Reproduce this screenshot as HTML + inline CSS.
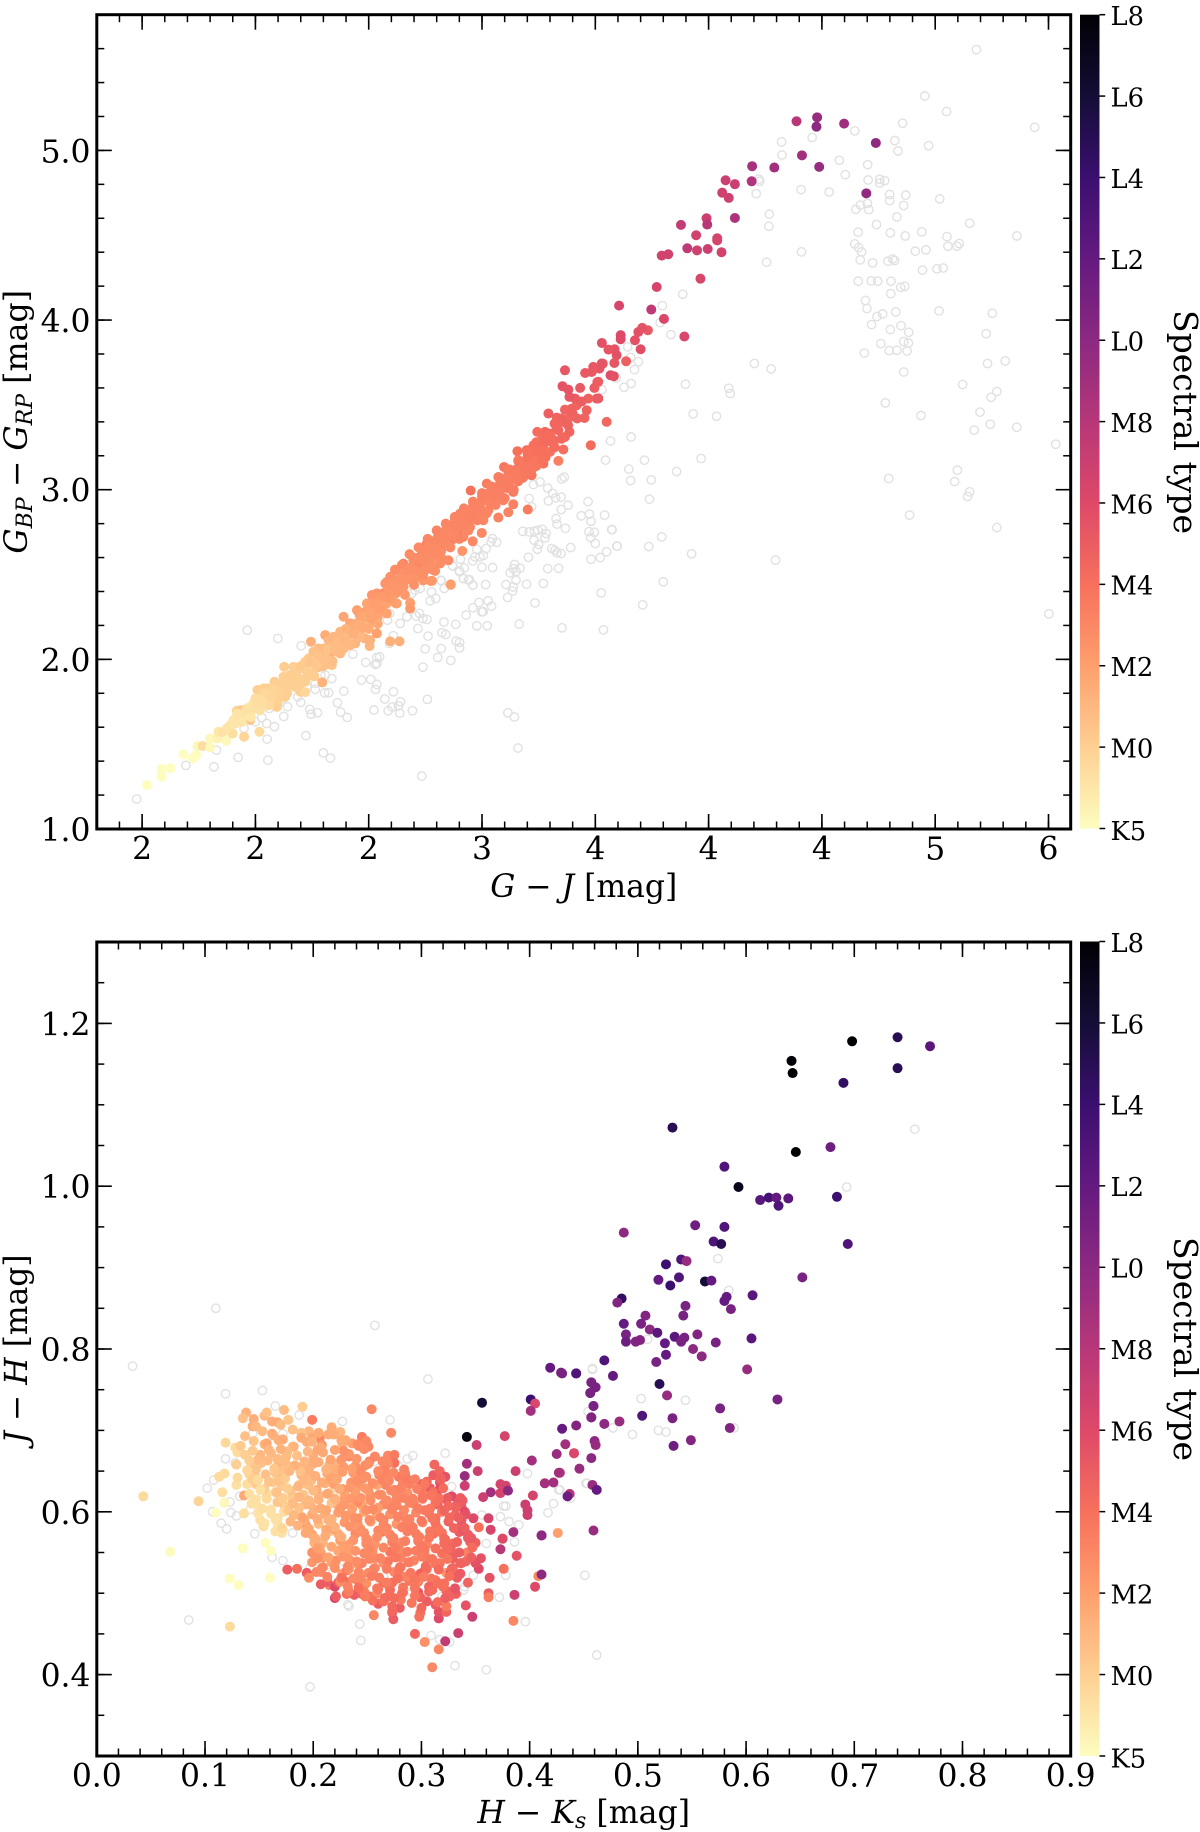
<!DOCTYPE html>
<html lang="en">
<head>
<meta charset="utf-8">
<title>Colour-colour diagrams by spectral type</title>
<style>
html,body{margin:0;padding:0;background:#fff;}
svg{display:block;}
text{font-family:"DejaVu Serif","Liberation Serif",serif;fill:#000;}
</style>
</head>
<body>
<svg id="figure" xmlns="http://www.w3.org/2000/svg" width="1200" height="1832" viewBox="0 0 1200 1832">
<defs>
<linearGradient id="magma-bar" x1="0" y1="1" x2="0" y2="0">
<stop offset="0" stop-color="#fcfdbf"/><stop offset="0.1" stop-color="#fecf92"/><stop offset="0.2" stop-color="#fe9f6d"/><stop offset="0.3" stop-color="#f7705c"/><stop offset="0.4" stop-color="#de4968"/><stop offset="0.5" stop-color="#b73779"/><stop offset="0.6" stop-color="#8c2981"/><stop offset="0.7" stop-color="#641a80"/><stop offset="0.8" stop-color="#3b0f70"/><stop offset="0.9" stop-color="#140e36"/><stop offset="1" stop-color="#000004"/>
</linearGradient>
</defs>
<g id="top-panel"></g>
<g id="bottom-panel"></g>
<text x="583.7" y="897" font-size="31.4" text-anchor="middle" xml:space="preserve"><tspan font-style="italic">G</tspan> − <tspan font-style="italic">J</tspan> [mag]</text>
<text transform="translate(27,421.8) rotate(-90)" font-size="31.7" text-anchor="middle" xml:space="preserve"><tspan font-style="italic">G</tspan><tspan font-style="italic" font-size="22" dy="5">BP</tspan><tspan dy="-5"> − </tspan><tspan font-style="italic">G</tspan><tspan font-style="italic" font-size="22" dy="5">RP</tspan><tspan dy="-5"> [mag]</tspan></text>
<text transform="translate(1174,422) rotate(90)" font-size="33" text-anchor="middle">Spectral type</text>
<text x="583.7" y="1823" font-size="31.6" text-anchor="middle" xml:space="preserve"><tspan font-style="italic">H</tspan> − <tspan font-style="italic">K</tspan><tspan font-style="italic" font-size="22" dy="5">s</tspan><tspan dy="-5"> [mag]</tspan></text>
<text transform="translate(27,1349) rotate(-90)" font-size="31.4" text-anchor="middle" xml:space="preserve"><tspan font-style="italic">J</tspan> − <tspan font-style="italic">H</tspan> [mag]</text>
<text transform="translate(1174,1349) rotate(90)" font-size="33" text-anchor="middle">Spectral type</text>
</svg>
<script>
const spectralLabels = ['K5','M0','M2','M4','M6','M8','L0','L2','L4','L6','L8'];
const spectralTicks = [-2,0,2,4,6,8,10,12,14,16,18];
const topXTickValues = [1.5,2,2.5,3,3.5,4,4.5,5,5.5];
const topXTickLabels = ['2','2','2','3','4','4','4','5','6'];
const topYTickValues = [1,2,3,4,5];
const topYTickLabels = ['1.0','2.0','3.0','4.0','5.0'];
const bottomXTickValues = [0,0.1,0.2,0.3,0.4,0.5,0.6,0.7,0.8,0.9];
const bottomXTickLabels = ['0.0','0.1','0.2','0.3','0.4','0.5','0.6','0.7','0.8','0.9'];
const bottomYTickValues = [0.4,0.6,0.8,1.0,1.2];
const bottomYTickLabels = ['0.4','0.6','0.8','1.0','1.2'];

const topFieldGJ = [
5.182,4.954,5.050,5.439,4.856,4.645,4.822,4.971,4.836,4.457,4.322,4.324,4.577,4.702,4.603,4.704,4.755,4.755,4.777,4.222,
4.226,4.408,4.532,4.210,4.799,4.870,4.799,5.020,4.861,4.670,4.701,4.650,4.707,4.268,4.266,4.831,5.152,4.741,4.660,4.802,
4.941,4.868,5.052,5.361,4.645,4.662,4.675,5.056,5.096,5.106,4.959,4.912,4.410,4.669,4.724,4.792,4.812,4.821,4.256,4.944,
5.008,5.035,4.660,4.718,4.746,4.805,4.848,4.866,4.804,3.886,4.692,4.699,3.796,5.017,5.252,4.826,4.768,4.743,3.786,4.719,
4.849,4.802,4.883,3.834,5.225,4.861,4.882,4.760,4.797,4.831,4.876,4.687,3.643,3.656,4.202,4.276,3.690,3.673,5.231,5.309,
4.861,3.592,3.658,3.627,3.898,4.089,4.096,5.121,5.272,5.247,4.780,3.529,3.932,4.035,4.937,5.198,5.172,5.243,5.360,5.532,
3.658,3.567,3.545,3.717,3.967,3.648,3.656,3.747,3.859,3.739,4.795,5.098,5.086,5.152,5.143,4.887,5.272,3.541,3.572,3.793,
3.736,3.595,3.550,3.925,4.295,3.800,3.526,3.709,3.536,5.502,3.363,3.352,3.256,3.227,3.290,3.311,3.349,3.325,3.293,3.208,
3.219,3.380,3.350,3.468,3.438,3.474,3.481,3.327,3.331,3.368,3.574,3.472,3.496,3.480,3.500,3.597,3.522,3.481,3.180,3.208,
3.231,3.246,3.266,3.283,3.230,3.278,3.250,3.244,3.308,3.322,3.330,3.349,3.391,3.205,3.046,3.040,3.065,3.018,2.977,2.991,
3.006,2.969,2.959,2.905,3.000,3.047,3.144,3.138,3.168,3.124,3.150,3.290,3.338,2.869,2.900,2.922,2.918,2.944,2.959,3.016,
3.106,3.150,3.138,3.197,3.271,2.818,1.964,2.099,2.202,1.693,1.817,1.828,1.924,2.055,2.052,2.223,1.950,2.084,2.050,1.999,
2.125,2.028,2.062,2.142,2.109,2.200,2.300,2.331,2.734,2.240,2.246,2.274,2.362,2.376,2.405,2.187,2.227,2.264,2.264,2.306,
2.323,2.390,2.337,2.308,2.289,2.468,2.509,2.536,2.530,2.571,2.609,2.640,2.631,2.604,2.586,2.523,2.637,2.693,2.759,2.430,
2.487,2.536,2.548,2.529,2.536,2.609,2.592,2.739,2.805,2.862,2.820,2.749,2.901,2.901,2.886,2.840,2.823,2.762,2.717,2.884,
2.832,2.668,2.709,2.724,2.739,2.757,2.583,2.639,2.592,2.771,2.796,2.777,2.727,2.704,2.690,2.833,2.821,2.918,2.930,2.977,
2.960,2.986,2.999,2.960,2.940,2.871,2.901,1.476,3.113,3.135,3.027,3.042,3.005,3.023,3.164,3.234,3.353,3.114,3.143,3.159
];
const topFieldBpRp = [
5.594,5.321,5.229,5.136,5.160,5.115,5.058,5.028,4.997,5.076,5.050,4.973,4.942,4.916,4.857,4.826,4.830,4.808,4.822,4.830,
4.818,4.769,4.755,4.745,4.740,4.736,4.704,4.714,4.675,4.677,4.687,4.653,4.651,4.624,4.553,4.608,4.571,4.563,4.518,4.514,
4.520,4.496,4.492,4.496,4.449,4.427,4.402,4.435,4.435,4.451,4.414,4.406,4.402,4.355,4.337,4.347,4.360,4.351,4.341,4.294,
4.302,4.307,4.229,4.231,4.229,4.229,4.193,4.199,4.156,4.152,4.115,4.068,4.085,4.054,4.040,4.048,4.036,4.021,3.985,3.973,
3.967,3.944,3.928,3.914,3.920,3.873,3.865,3.861,3.820,3.822,3.818,3.806,3.842,3.779,3.744,3.712,3.755,3.708,3.744,3.759,
3.694,3.659,3.626,3.604,3.622,3.598,3.567,3.620,3.579,3.545,3.512,3.590,3.447,3.433,3.437,3.457,3.351,3.386,3.368,3.268,
3.311,3.288,3.174,3.174,3.184,3.121,3.054,3.058,3.107,2.944,3.066,3.115,3.048,2.987,2.960,2.850,2.777,2.850,2.765,2.722,
2.665,2.667,2.634,2.622,2.585,2.457,2.392,2.321,2.174,2.268,3.074,3.064,3.046,3.030,3.009,2.979,2.956,2.952,2.934,2.948,
2.899,2.909,2.883,2.930,2.846,2.856,2.814,2.830,2.797,2.773,2.765,2.753,2.749,2.718,2.683,2.667,2.600,2.590,2.755,2.751,
2.755,2.761,2.767,2.742,2.702,2.716,2.677,2.649,2.653,2.643,2.628,2.624,2.659,2.602,2.712,2.692,2.690,2.653,2.649,2.604,
2.612,2.604,2.580,2.590,2.543,2.541,2.559,2.535,2.537,2.510,2.518,2.535,2.537,2.553,2.522,2.539,2.476,2.470,2.437,2.441,
2.441,2.466,2.427,2.443,2.447,2.466,2.172,2.123,2.080,1.375,1.367,1.465,1.422,1.406,1.530,1.550,1.593,1.603,1.622,1.632,
1.664,1.656,1.711,1.721,1.750,1.746,1.449,1.418,1.312,1.705,1.677,1.685,1.744,1.689,1.658,1.779,1.838,1.823,1.858,1.803,
1.803,1.813,1.886,1.907,1.907,1.878,1.882,1.852,1.823,1.766,1.809,1.750,1.726,1.719,1.697,1.701,1.683,1.697,1.764,2.031,
1.982,2.011,2.015,1.970,1.976,2.139,2.094,1.954,2.011,1.994,2.064,2.062,2.068,2.100,2.108,2.147,2.157,2.137,2.182,2.206,
2.220,2.251,2.255,2.271,2.241,2.235,2.231,2.212,2.271,2.345,2.359,2.398,2.418,2.408,2.389,2.418,2.463,2.477,2.261,2.198,
2.304,2.335,2.280,2.438,2.467,2.550,2.516,1.177,2.365,2.403,2.345,2.314,2.281,2.198,2.208,2.333,2.186,1.685,1.660,1.477
];

const topMemberGJ = [
4.388,4.479,4.476,4.598,4.738,4.412,4.488,4.192,4.290,4.190,
4.075,4.116,4.060,4.089,4.696,3.991,3.994,4.116,3.878,3.945,
4.038,4.038,3.906,3.949,3.996,4.057,3.793,3.822,3.964,3.771,
3.605,3.747,3.803,3.893,3.732,3.707,3.690,3.612,3.612,3.675,
3.700,3.636,3.585,3.594,3.558,3.529,3.533,3.584,3.567,3.582,
3.518,3.513,3.513,3.550,3.528,3.509,3.506,3.496,3.491,3.484,
3.480,3.469,3.462,3.455,3.452,3.433,3.418,3.411,3.396,3.386,
3.386,3.381,3.381,3.366,3.366,3.366,3.359,3.359,3.355,3.337,
3.337,3.330,3.315,3.300,3.300,3.293,3.278,3.271,3.271,3.263,
3.244,3.241,3.227,3.219,3.205,3.202,3.197,3.183,3.183,3.160,
3.156,3.153,3.138,3.138,3.124,3.116,3.116,3.102,3.097,3.094,
3.080,3.072,3.072,3.057,3.050,3.028,3.028,3.021,3.021,3.006,
2.999,2.991,2.984,2.962,2.962,2.959,2.950,2.947,2.925,2.918,
2.913,2.903,2.896,2.881,2.866,2.852,2.852,2.837,2.830,2.807,
2.807,2.793,2.793,2.771,2.756,2.741,2.734,2.712,2.697,2.668,
2.653,2.616,2.616,2.579,2.862,2.774,2.862,2.815,2.786,2.779,
2.70,2.74,2.78,2.82,2.85,2.87,2.90,2.93,2.95,2.97,
3.00,3.03,3.06,3.09,3.12,3.15,3.18,3.21,3.24,3.27,
2.72,2.76,2.80,2.84,2.88,2.92,2.96,3.00,3.04,3.08,
3.12,3.16,3.20,3.24,3.28,3.32,2.68,2.72,2.76,2.80,
2.84,2.88,2.92,2.96,3.00,3.04,3.08,3.12,3.16,3.20,
3.24,2.82,2.78,2.74,2.70,2.66,2.64,2.62,2.62,2.60,
2.58,2.58,2.56,2.55,2.54,2.52,2.50,2.50,2.46,2.46,
2.44,2.42,2.40,2.34,2.30,2.27,1.522,1.586,1.586,1.625,
1.683,1.724,1.739,1.744,1.767,1.800,1.800,1.833,1.837,1.856,
1.871,1.899,1.950,2.018,1.874,1.889,1.903,1.918,1.933,1.948,
1.962,1.977,1.992,2.006,2.021,2.036,1.918,1.936,1.977,1.911,
1.925,1.955,1.970,1.984,1.999,2.014,2.036,2.058,2.009,2.036,
2.053,2.084,2.102,2.124,2.127,2.153,2.168,2.183,2.205,2.220,
2.234,2.249,2.205,2.227,2.065,2.087,2.102,2.080,2.058,2.043,
2.095,2.098,2.131,2.109,2.139,2.161,2.175,2.198,2.220,2.295,
2.249,2.264,2.278,2.293,2.315,2.337,2.245,2.308,2.323,2.345,
2.359,2.374,2.389,2.403,2.396,2.374,2.359,2.330,2.301,2.278,
2.256,2.389,2.418,2.440,2.418,2.433,2.448,2.470,2.484,2.499,
2.514,2.484,2.462,2.484,2.504,2.506,2.536,2.595,2.636,2.514,
2.536,2.565,2.551,2.580,2.602,2.624,2.521,2.506,2.543,2.492,
2.573,2.587,2.609,2.631,2.595,2.617,2.646,2.654,2.676,2.698,
2.727,2.749,2.771,2.683,2.712,2.742,2.654,2.624,2.683,2.683,
1.90,1.92,1.94,1.96,1.98,2.00,2.02,2.04,2.06,2.08,
2.10,2.12,2.14,2.16,2.18,2.20,2.22,2.24,2.26,2.28,
2.30,2.32,2.34,2.36,2.38,2.40,2.42,2.44,2.46,2.48,
2.50,2.52,2.54,2.56,2.58,2.60,2.62,2.64,2.66,2.68,
2.70,2.72,2.74,2.76,2.78,2.80,2.82,2.84,2.86,2.88,
2.90,2.92,2.94,2.96,2.98,3.00,3.02,3.04,3.06,3.08,
3.10,3.12,3.14,3.16,3.18,3.20,3.22,3.24,3.26,3.28,
2.51,2.55,2.59,2.63,2.67,2.71,2.75,2.79,2.83,2.87,
2.91,2.95,2.99,3.03,3.07,3.11,3.15,3.19,3.23,3.27,
3.31,3.33,3.35,3.35,3.38,3.40,3.42,3.44,3.29,3.32,
2.03,2.07,2.11,2.15,2.19,2.23,2.27,2.31,2.35,2.39,
2.43,2.47
];
const topMemberBpRp = [
5.172,5.195,5.140,5.158,5.044,4.971,4.903,4.907,4.899,4.818,
4.824,4.801,4.751,4.720,4.747,4.600,4.563,4.602,4.561,4.500,
4.482,4.470,4.423,4.411,4.419,4.400,4.380,4.388,4.244,4.195,
4.085,4.062,4.007,3.903,3.940,3.954,3.930,3.911,3.887,3.881,
3.828,3.757,3.828,3.793,3.826,3.865,3.743,3.747,3.675,3.669,
3.714,3.636,3.538,3.400,3.744,3.635,3.537,3.600,3.724,3.694,
3.262,3.537,3.468,3.688,3.423,3.600,3.498,3.537,3.478,3.547,
3.341,3.590,3.419,3.704,3.472,3.311,3.400,3.237,3.610,3.351,
3.170,3.425,3.272,3.331,3.223,3.449,3.341,3.223,3.154,3.292,
3.341,3.213,3.262,3.085,3.174,2.883,3.233,3.134,3.075,3.174,
3.227,3.075,2.987,2.914,3.066,3.105,2.867,3.016,3.134,2.938,
3.056,3.075,2.836,2.958,3.016,2.977,2.879,3.036,2.958,2.820,
2.745,2.908,2.879,2.918,2.840,2.696,2.995,2.781,2.820,2.722,
2.639,2.859,2.761,2.820,2.702,2.682,2.584,2.741,2.692,2.741,
2.623,2.673,2.521,2.545,2.682,2.466,2.620,2.486,2.584,2.525,
2.564,2.529,2.466,2.456,2.439,2.462,2.442,2.565,2.526,2.463,
2.60,2.64,2.68,2.72,2.76,2.79,2.81,2.86,2.88,2.90,
2.94,2.97,3.00,3.04,3.08,3.12,3.16,3.19,3.23,3.26,
2.58,2.62,2.66,2.70,2.75,2.79,2.83,2.87,2.92,2.97,
3.02,3.05,3.10,3.14,3.19,3.25,2.62,2.66,2.71,2.76,
2.80,2.84,2.89,2.93,2.98,3.02,3.07,3.12,3.17,3.22,
3.28,2.64,2.60,2.56,2.51,2.47,2.43,2.44,2.39,2.42,
2.36,2.40,2.29,2.36,2.25,2.28,2.20,2.31,2.21,2.26,
2.15,2.17,2.10,2.08,2.03,2.00,1.259,1.354,1.308,1.358,
1.440,1.416,1.436,1.489,1.489,1.534,1.481,1.534,1.573,1.571,
1.520,1.563,1.544,1.573,1.593,1.612,1.642,1.662,1.671,1.691,
1.711,1.720,1.740,1.760,1.760,1.770,1.697,1.701,1.642,1.622,
1.642,1.671,1.691,1.701,1.711,1.720,1.740,1.750,1.819,1.829,
1.829,1.868,1.848,1.897,1.956,1.907,1.956,1.937,1.946,1.986,
2.005,1.917,1.862,1.897,1.819,1.829,1.809,1.779,1.789,1.770,
1.720,1.750,1.779,1.829,1.858,1.868,1.838,1.809,1.807,1.864,
2.005,1.995,1.956,1.986,2.015,1.966,2.104,2.143,2.113,2.133,
2.113,2.163,2.251,2.123,2.074,2.035,2.055,2.035,2.064,2.064,
2.045,2.064,2.084,2.094,2.212,2.182,2.290,2.261,2.280,2.251,
2.241,2.192,2.163,2.123,2.078,2.113,2.153,2.106,2.106,2.379,
2.389,2.389,2.339,2.330,2.349,2.330,2.320,2.290,2.310,2.330,
2.447,2.418,2.467,2.447,2.487,2.526,2.556,2.506,2.526,2.556,
2.565,2.526,2.536,2.477,2.487,2.467,2.428,2.408,2.333,2.300,
1.62,1.68,1.63,1.70,1.66,1.77,1.70,1.80,1.73,1.82,
1.76,1.86,1.80,1.90,1.84,1.96,1.87,1.98,1.90,2.02,
1.96,2.06,1.99,2.10,2.05,2.18,2.09,2.21,2.13,2.25,
2.18,2.33,2.21,2.37,2.27,2.44,2.33,2.48,2.38,2.54,
2.44,2.60,2.50,2.66,2.55,2.71,2.60,2.76,2.66,2.81,
2.71,2.85,2.76,2.90,2.82,2.96,2.86,2.99,2.91,3.03,
2.95,3.06,3.00,3.11,3.07,3.19,3.12,3.22,3.18,3.28,
2.26,2.30,2.36,2.41,2.47,2.52,2.58,2.63,2.68,2.73,
2.78,2.84,2.89,2.93,2.98,3.01,3.06,3.13,3.17,3.23,
3.30,3.36,3.30,3.42,3.38,3.45,3.42,3.52,3.32,3.39,
1.75,1.78,1.81,1.85,1.89,1.93,1.96,2.01,2.05,2.11,
2.15,2.19
];
const topMemberType = [
8,9.5,10,9.2,9.8,9,9.5,8.8,9,8.3,
7,7,6.8,6.8,9.8,7,8,8.5,7.4,6.7,
6.5,6.5,7.6,6.8,7,6.6,6.7,6.7,6.3,6.4,
6.4,7.6,6.2,6.2,5.2,5.5,5.6,6,6,5.6,
5.8,4.8,5.5,5.6,5.4,5.6,5.2,5.4,5.8,5.6,
5.4,5,5.5,4.4,5.4,4.9,5,5,5.3,5.2,
4.2,4.7,4.7,5.2,4.6,5.2,4.6,5,4.7,5.3,
4.5,5.4,4.5,5.3,4.6,4.5,4.4,4.1,5.5,4.4,
3.3,4.6,4.1,4.3,3.9,4.8,4.4,3.7,4,4.3,
4.2,3.6,4,3.8,3.5,3.5,4,3.4,3.7,3.4,
4,3.7,3.7,3.3,4.3,3.6,3.2,3.3,3.8,3.2,
3.4,3.5,3.2,3.3,3.3,3.8,3.1,3.4,3.1,3,
3,3.2,3.2,3.2,3.2,3,3.9,3.1,3.2,3,
2.4,3.2,3.4,3.2,3.2,3.4,2.8,3,3.2,3,
2.8,3,2.6,2.8,3.3,2.6,2.8,2.8,2.8,3,
3.2,3,2.6,2.6,1.9,2.5,2,2.8,2.7,2.3,
2.8,2.9,3,3,3.1,3.1,3.1,3.2,3.2,3.2,
3.2,3.3,3.3,3.4,3.5,3.6,3.7,3.8,3.9,4,
2.8,2.8,2.9,3,3.1,3.1,3.1,3.2,3.2,3.3,
3.4,3.5,3.7,3.8,4,4.2,2.8,2.9,3,3.1,
3.1,3.1,3.2,3.2,3.3,3.3,3.4,3.5,3.7,3.9,
4.1,2.8,2.7,2.7,2.6,2.5,2.4,2.4,2.3,2.3,
2.2,2.3,2,2.1,1.8,1.9,1.4,2,1.2,1.7,
1,1.2,1,0.9,0.7,0.4,-2,-2,-2,-2,
-2,-2,-2,-1.8,-0.6,-1.8,-1.8,-1.5,-1,-0.8,
-1.8,-0.6,-0.2,-0.5,-0.9,-0.9,-1,-1,-1,-1,
-1,-1,-0.9,-0.8,-0.7,-0.6,-0.2,0.3,0.4,-0.9,
-0.9,-0.9,-0.9,-0.9,-0.8,-0.7,-0.6,-0.3,0,0,
0,0.1,0,0,0.1,0,0,0,0,0.1,
0.2,0,0,0,0,0,0.3,0,0,-0.2,
0,0,0,0.2,0,0,0,0,-0.3,1.2,
0.4,0.2,1,0.5,0.6,0.5,1.3,1.5,1,1,
1,1,1.7,0.7,0.8,1,1,1.5,0.8,0.8,
0.6,0.8,1.1,1.1,1.8,1.5,2,1.8,1.9,1.9,
2,1.2,1.2,1.2,1,1.2,1.9,1.3,1.3,2.4,
2.4,2.8,2,1.8,1.8,1.8,2,1.8,2,1.8,
2.5,2.3,2.4,2.5,2.6,2.8,2.9,2.6,2.7,2.8,
3,2.6,2.7,2.5,2.5,2.4,2.4,2.2,2,2.2,
-1,-0.9,-1,-0.8,-1,-0.6,-0.8,-0.4,-0.5,-0.2,
-0.1,0,0,0.1,0,0.2,0,0.4,0.1,0.5,
0.6,0.5,0.7,0.8,0.8,1.2,0.9,1.4,1,1.6,
1.5,2,1.6,2.2,1.8,2.4,2,2.5,2.2,2.7,
2.6,2.8,2.7,2.9,2.7,3,2.8,3,2.9,3.1,
3.1,3.1,3,3.2,3.1,3.3,3.1,3.3,3.2,3.4,
3.3,3.4,3.4,3.5,3.6,3.9,3.7,4,3.9,4.3,
1.8,2,2.2,2.4,2.5,2.7,2.8,2.9,3,3,
3.1,3.2,3.2,3.2,3.3,3.4,3.5,3.7,3.8,4,
4.3,4.5,4.4,4.6,4.6,4.7,4.7,4.9,4.2,4.5,
-0.6,-0.3,-0.1,0,0,0.1,0.3,0.6,0.8,1,
1.3,1.5
];

const bottomFieldHK = [
0.110,0.033,0.119,0.153,0.306,0.257,0.165,0.187,0.227,0.271,0.322,0.292,0.287,0.279,0.119,0.128,0.108,0.102,0.107,0.123,
0.132,0.124,0.129,0.115,0.120,0.142,0.146,0.162,0.085,0.197,0.243,0.244,0.232,0.233,0.309,0.317,0.326,0.331,0.360,0.396,
0.451,0.372,0.378,0.386,0.398,0.422,0.417,0.427,0.438,0.452,0.458,0.328,0.390,0.381,0.373,0.376,0.378,0.356,0.360,0.353,
0.348,0.340,0.339,0.319,0.279,0.291,0.291,0.211,0.213,0.197,0.236,0.181,0.270,0.277,0.250,0.248,0.257,0.144,0.172,0.153,
0.462,0.756,0.693,0.574,0.584,0.509,0.458,0.503,0.544,0.454,0.477,0.495,0.519,0.526,0.589,0.453,0.428,0.172,0.225,0.265
];
const bottomFieldJH = [
0.850,0.779,0.745,0.749,0.763,0.829,0.730,0.719,0.711,0.713,0.672,0.669,0.665,0.656,0.665,0.660,0.639,0.629,0.600,0.612,
0.619,0.599,0.595,0.586,0.579,0.603,0.573,0.544,0.467,0.385,0.462,0.442,0.486,0.484,0.448,0.443,0.440,0.411,0.406,0.465,
0.522,0.495,0.522,0.563,0.647,0.610,0.599,0.627,0.617,0.635,0.775,0.631,0.584,0.588,0.594,0.607,0.607,0.596,0.561,0.541,
0.522,0.508,0.504,0.496,0.516,0.508,0.502,0.525,0.535,0.531,0.508,0.574,0.641,0.647,0.684,0.678,0.662,0.696,0.696,0.623,
0.424,1.070,0.999,0.911,0.872,0.812,0.776,0.739,0.737,0.723,0.703,0.695,0.700,0.698,0.703,0.635,0.627,0.540,0.530,0.520
];

const bottomMemberHK = [
0.698,0.642,0.643,0.740,0.770,0.740,0.690,0.532,0.646,0.678,
0.580,0.593,0.613,0.621,0.628,0.630,0.639,0.684,0.553,0.580,
0.487,0.570,0.577,0.694,0.526,0.540,0.545,0.519,0.538,0.530,
0.562,0.568,0.652,0.485,0.481,0.582,0.580,0.606,0.544,0.586,
0.507,0.542,0.487,0.503,0.511,0.518,0.489,0.489,0.498,0.502,
0.534,0.543,0.540,0.555,0.525,0.572,0.605,0.526,0.551,0.559,
0.517,0.601,0.469,0.477,0.520,0.527,0.629,0.576,0.532,0.504,
0.483,0.469,0.457,0.459,0.456,0.460,0.457,0.443,0.430,0.585,
0.549,0.533,0.443,0.430,0.433,0.460,0.461,0.441,0.457,0.446,
0.428,0.458,0.462,0.437,0.435,0.356,0.342,0.401,0.405,0.401,
0.351,0.377,0.419,0.429,0.443,0.457,0.461,0.456,0.459,0.457,
0.425,0.441,0.402,0.342,0.352,0.340,0.340,0.387,0.427,0.414,
0.422,0.373,0.378,0.373,0.380,0.364,0.357,0.403,0.396,0.398,
0.398,0.459,0.411,0.426,0.362,0.348,0.353,0.364,0.375,0.310,
0.334,0.322,0.316,0.303,0.294,0.385,0.347,0.341,0.316,0.316,
0.323,0.323,0.313,0.298,0.386,0.405,0.408,0.411,0.362,0.362,
0.332,0.363,0.376,0.353,0.355,0.350,0.388,0.373,0.375,0.411,
0.385,0.274,0.273,0.256,0.280,0.260,0.266,0.252,0.176,0.185,
0.194,0.196,0.207,0.215,0.220,0.223,0.229,0.220,0.221,0.231,
0.238,0.245,0.252,0.160,0.161,0.156,0.043,0.094,0.110,0.118,
0.136,0.136,0.116,0.129,0.130,0.113,0.118,0.119,0.128,0.130,
0.138,0.135,0.145,0.144,0.155,0.157,0.162,0.167,0.173,0.177,
0.190,0.199,0.254,0.272,0.217,0.225,0.196,0.206,0.214,0.245,
0.242,0.236,0.123,0.135,0.068,0.269,0.275,0.275,0.279,0.285,
0.266,0.261,0.312,0.311,0.317,0.322,0.317,0.300,0.308,0.317,
0.328,0.336,0.337,0.340,0.324,0.151,0.154,0.165,0.172,0.123,
0.147,0.163,0.170,0.189,0.199,0.217,
0.137,0.155,0.162,0.181,0.189,0.208,0.219,0.241,
0.133,0.151,0.157,0.175,0.182,0.200,0.207,0.227,0.233,0.251,
0.137,0.143,0.161,0.167,0.185,0.191,0.209,0.215,0.233,0.239,0.257,
0.129,0.146,0.152,0.170,0.176,0.194,0.200,0.218,0.224,0.242,0.248,0.266,0.269,
0.141,0.147,0.165,0.171,0.189,0.195,0.213,0.219,0.237,0.243,0.261,0.267,0.285,0.289,
0.139,0.157,0.163,0.181,0.187,0.205,0.211,0.229,0.235,0.253,0.259,0.277,0.283,0.301,0.305,
0.141,0.147,0.165,0.173,0.191,0.197,0.215,0.221,0.239,0.245,0.263,0.269,0.287,0.293,0.311,0.315,
0.143,0.161,0.167,0.187,0.193,0.211,0.217,0.235,0.241,0.259,0.265,0.283,0.289,0.307,0.313,0.331,0.333,
0.149,0.167,0.173,0.193,0.199,0.217,0.223,0.241,0.247,0.265,0.271,0.289,0.295,0.313,0.319,0.337,0.341,
0.155,0.171,0.179,0.199,0.205,0.223,0.229,0.247,0.253,0.271,0.277,0.295,0.301,0.319,0.325,0.343,
0.193,0.209,0.215,0.233,0.239,0.257,0.263,0.281,0.287,0.305,0.311,0.329,0.335,0.350,
0.201,0.207,0.225,0.231,0.249,0.255,0.273,0.279,0.297,0.303,0.321,0.327,0.345,
0.199,0.217,0.223,0.241,0.247,0.265,0.271,0.289,0.295,0.313,0.319,0.337,0.342,
0.199,0.203,0.221,0.227,0.245,0.251,0.269,0.275,0.293,0.299,0.317,0.323,0.341,
0.207,0.225,0.231,0.249,0.255,0.273,0.279,0.297,0.303,0.321,0.327,0.343,
0.213,0.233,0.241,0.259,0.265,0.283,0.289,0.307,0.313,0.331,
0.247,0.265,0.271,0.291,0.297,0.315,0.323,
0.255,0.273,0.281,0.299,0.305,0.131,
0.153,0.168,0.181,0.194,0.205,0.230,
0.145,0.159,0.172,0.176,0.199,0.204,0.226,0.228,0.249,
0.144,0.149,0.170,0.174,0.195,0.200,0.220,0.226,0.247,0.252,
0.141,0.147,0.167,0.172,0.192,0.196,0.216,0.220,0.240,0.244,0.264,0.266,
0.139,0.144,0.164,0.168,0.188,0.192,0.212,0.216,0.236,0.240,0.260,0.264,0.284,0.287,
0.149,0.155,0.174,0.179,0.198,0.203,0.222,0.227,0.246,0.251,0.270,0.275,0.294,0.299,0.318,
0.151,0.157,0.176,0.181,0.200,0.205,0.224,0.229,0.248,0.253,0.272,0.277,0.296,0.301,0.320,0.323,
0.147,0.153,0.172,0.177,0.196,0.201,0.220,0.225,0.244,0.249,0.268,0.273,0.292,0.297,0.316,0.321,0.338,
0.161,0.167,0.187,0.192,0.212,0.217,0.236,0.241,0.260,0.265,0.284,0.289,0.308,0.313,0.332,0.337,
0.165,0.171,0.190,0.195,0.214,0.219,0.238,0.243,0.262,0.267,0.286,0.291,0.310,0.315,0.334,0.339,
0.196,0.201,0.220,0.225,0.244,0.249,0.268,0.273,0.292,0.297,0.316,0.321,0.340,0.343,
0.202,0.206,0.226,0.231,0.250,0.255,0.274,0.279,0.298,0.303,0.322,0.327,0.346,
0.204,0.209,0.228,0.233,0.252,0.257,0.276,0.281,0.300,0.305,0.324,0.329,0.347,
0.204,0.209,0.228,0.233,0.252,0.257,0.276,0.281,0.300,0.305,0.324,0.329,0.346,
0.208,0.213,0.232,0.237,0.256,0.261,0.280,0.285,0.304,0.309,0.328,0.333,
0.226,0.232,0.254,0.259,0.278,0.283,0.302,0.307,0.326,0.331,
0.242,0.248,0.270,0.275,0.294,0.299,0.320,0.326,
0.268,0.273,0.294,0.300,0.322,
0.158,0.183,0.205,0.228,0.251,
0.156,0.178,0.202,0.227,0.249,0.274,
0.159,0.186,0.208,0.234,0.255,0.281,0.303,
0.166,0.187,0.213,0.235,0.261,0.283,0.309,
0.181,0.207,0.229,0.255,0.277,0.303,0.325,
0.182,0.204,0.230,0.252,0.278,0.300,0.326,
0.186,0.212,0.234,0.260,0.282,0.308,0.330,
0.211,0.237,0.259,0.285,0.307,0.333,
0.217,0.239,0.265,0.287,0.313,0.335,
0.214,0.240,0.262,0.288,0.310,0.336,
0.220,0.242,0.268,0.290,0.316,0.336,
0.244,0.268,0.294,0.316,
0.260,0.282,0.310
];
const bottomMemberJH = [
1.178,1.154,1.139,1.183,1.172,1.145,1.127,1.072,1.042,1.048,
1.024,0.999,0.983,0.986,0.986,0.976,0.985,0.987,0.952,0.950,
0.943,0.932,0.929,0.929,0.904,0.910,0.908,0.885,0.888,0.878,
0.883,0.884,0.888,0.862,0.857,0.864,0.859,0.866,0.853,0.849,
0.841,0.841,0.831,0.831,0.824,0.820,0.818,0.809,0.809,0.811,
0.815,0.814,0.809,0.818,0.807,0.808,0.813,0.793,0.800,0.791,
0.784,0.775,0.786,0.767,0.757,0.743,0.738,0.727,0.715,0.718,
0.711,0.708,0.716,0.730,0.746,0.753,0.759,0.770,0.770,0.703,
0.688,0.681,0.706,0.702,0.683,0.687,0.682,0.672,0.666,0.653,
0.648,0.633,0.627,0.622,0.619,0.734,0.692,0.738,0.733,0.724,
0.682,0.693,0.777,0.771,0.770,0.759,0.753,0.746,0.730,0.716,
0.671,0.672,0.663,0.659,0.650,0.644,0.632,0.650,0.648,0.635,
0.636,0.634,0.632,0.623,0.626,0.624,0.618,0.620,0.609,0.602,
0.596,0.577,0.571,0.574,0.592,0.592,0.581,0.578,0.567,0.409,
0.451,0.441,0.431,0.440,0.450,0.466,0.471,0.485,0.469,0.477,
0.477,0.484,0.486,0.471,0.498,0.508,0.521,0.523,0.500,0.495,
0.499,0.519,0.530,0.530,0.543,0.537,0.546,0.554,0.567,0.571,
0.575,0.468,0.476,0.473,0.482,0.487,0.494,0.496,0.529,0.530,
0.525,0.519,0.511,0.510,0.508,0.513,0.515,0.494,0.496,0.499,
0.498,0.499,0.496,0.519,0.552,0.562,0.619,0.613,0.599,0.611,
0.598,0.620,0.624,0.633,0.642,0.643,0.647,0.685,0.679,0.673,
0.722,0.715,0.714,0.705,0.718,0.722,0.711,0.710,0.725,0.713,
0.729,0.713,0.726,0.697,0.704,0.698,0.699,0.690,0.695,0.692,
0.681,0.684,0.459,0.555,0.551,0.669,0.670,0.660,0.643,0.639,
0.656,0.648,0.658,0.645,0.650,0.643,0.636,0.634,0.629,0.628,
0.619,0.617,0.607,0.600,0.617,0.590,0.582,0.576,0.578,0.518,
0.705,0.694,0.707,0.697,0.691,0.703,
0.693,0.683,0.696,0.680,0.691,0.682,0.695,0.683,
0.681,0.670,0.684,0.668,0.680,0.670,0.679,0.684,0.668,0.680,
0.670,0.658,0.672,0.656,0.669,0.657,0.673,0.658,0.671,0.656,0.668,
0.658,0.646,0.660,0.644,0.657,0.645,0.659,0.646,0.660,0.644,0.657,0.646,0.659,
0.646,0.634,0.648,0.632,0.645,0.633,0.647,0.634,0.648,0.632,0.645,0.633,0.647,0.634,
0.634,0.622,0.636,0.620,0.633,0.621,0.635,0.622,0.636,0.620,0.633,0.621,0.635,0.622,0.637,
0.622,0.610,0.624,0.608,0.621,0.609,0.623,0.610,0.624,0.608,0.621,0.609,0.623,0.610,0.624,0.609,
0.610,0.598,0.612,0.596,0.609,0.597,0.611,0.598,0.612,0.596,0.609,0.597,0.611,0.598,0.612,0.596,0.609,
0.598,0.586,0.600,0.584,0.597,0.585,0.599,0.586,0.600,0.584,0.597,0.585,0.599,0.586,0.600,0.584,0.597,
0.586,0.574,0.588,0.572,0.585,0.573,0.587,0.574,0.588,0.572,0.585,0.573,0.587,0.574,0.588,0.572,
0.574,0.562,0.576,0.560,0.573,0.561,0.575,0.562,0.576,0.560,0.573,0.561,0.575,0.562,
0.562,0.550,0.564,0.548,0.561,0.549,0.563,0.550,0.564,0.548,0.561,0.549,0.563,
0.550,0.538,0.552,0.536,0.549,0.537,0.551,0.538,0.552,0.536,0.549,0.537,0.550,
0.538,0.526,0.540,0.524,0.537,0.525,0.539,0.526,0.540,0.524,0.537,0.525,0.539,
0.526,0.514,0.528,0.512,0.525,0.513,0.527,0.514,0.528,0.512,0.525,0.513,
0.514,0.502,0.516,0.500,0.513,0.501,0.515,0.502,0.516,0.500,
0.502,0.490,0.504,0.488,0.501,0.489,0.503,
0.491,0.478,0.492,0.476,0.490,0.510,
0.699,0.688,0.701,0.686,0.697,0.688,
0.687,0.676,0.689,0.674,0.686,0.676,0.688,0.675,0.687,
0.675,0.664,0.677,0.662,0.674,0.663,0.676,0.664,0.677,0.662,
0.663,0.652,0.665,0.650,0.662,0.651,0.664,0.652,0.665,0.650,0.662,0.651,
0.651,0.640,0.653,0.638,0.650,0.639,0.652,0.640,0.653,0.638,0.650,0.639,0.652,0.640,
0.639,0.628,0.641,0.626,0.638,0.627,0.640,0.628,0.641,0.626,0.638,0.627,0.640,0.628,0.641,
0.627,0.616,0.629,0.614,0.626,0.615,0.628,0.616,0.629,0.614,0.626,0.615,0.628,0.616,0.629,0.615,
0.615,0.604,0.617,0.602,0.614,0.603,0.616,0.604,0.617,0.602,0.614,0.603,0.616,0.604,0.617,0.602,0.614,
0.603,0.592,0.605,0.590,0.602,0.591,0.604,0.592,0.605,0.590,0.602,0.591,0.604,0.592,0.605,0.590,
0.591,0.580,0.593,0.578,0.590,0.579,0.592,0.580,0.593,0.578,0.590,0.579,0.592,0.580,0.593,0.578,
0.579,0.568,0.581,0.566,0.578,0.567,0.580,0.568,0.581,0.566,0.578,0.567,0.580,0.568,
0.567,0.556,0.569,0.554,0.566,0.555,0.568,0.556,0.569,0.554,0.566,0.555,0.568,
0.555,0.544,0.557,0.542,0.554,0.543,0.556,0.544,0.557,0.542,0.554,0.543,0.556,
0.543,0.532,0.545,0.530,0.542,0.531,0.544,0.532,0.545,0.530,0.542,0.531,0.544,
0.531,0.520,0.533,0.518,0.530,0.519,0.532,0.520,0.533,0.518,0.530,0.519,
0.519,0.508,0.521,0.506,0.518,0.507,0.520,0.508,0.521,0.506,
0.507,0.496,0.509,0.494,0.506,0.495,0.508,0.496,
0.495,0.484,0.497,0.482,0.494,
0.663,0.657,0.661,0.655,0.659,
0.646,0.650,0.644,0.649,0.643,0.648,
0.637,0.631,0.636,0.630,0.635,0.629,0.634,
0.624,0.618,0.622,0.616,0.621,0.617,0.620,
0.610,0.604,0.609,0.603,0.608,0.602,0.607,
0.596,0.591,0.595,0.590,0.594,0.589,0.593,
0.583,0.578,0.582,0.577,0.581,0.576,0.580,
0.570,0.565,0.569,0.564,0.568,0.563,
0.557,0.552,0.556,0.551,0.555,0.550,
0.544,0.539,0.543,0.538,0.542,0.537,
0.531,0.526,0.530,0.525,0.529,0.524,
0.518,0.513,0.517,0.512,
0.505,0.500,0.504
];
const bottomMemberType = [
18,18,18,15,12.5,15,14.5,15,18,11.5,
13,17,12.5,13.5,12,13,12.5,14,11.5,13,
10,13,15,13,14,13,9.5,12,13,14,
16,12,11,14.5,10.5,12,12,12.5,11,11,
10.5,11,12,11,10,12.5,11,11.5,10.5,10.5,
12.5,11,11,10.5,12,11,12.5,12,10,10,
11,9.5,13,12,15,9.5,11,11,11,13,
9.5,10,11,11,11,10.5,10,12.5,11,10.5,
10.5,11.5,10.5,12,9,10,9.5,6.2,10,9.5,
7,9.5,12,8,11.5,16,17.5,14,6.2,9,
7,6.5,12,11,13,11,11,11,11,10.5,
9.5,6.2,9,9,7,9.5,7,7,9,9,
9,6.5,6.5,6.5,10,9,7,6.5,7,7,
7,9.5,11,2,6.5,6,4,6.5,5.5,3,
7,7.5,3,2.6,4.5,3,7,5.5,6,5.5,
4.5,3.5,5,4,7,6,3,10,5,3.5,
4,5.5,4,6,5.5,5.5,5.5,8,6,10,
9,5,5,3,5,5,5,4,5,4,
5,2.8,5,3.5,6,5,4,6.5,5,4,
5,4.5,4,-2,-2,-2,-0.5,-0.2,-2,-1.8,
-0.7,1.6,-0.6,-0.8,-0.5,-0.5,-0.5,-0.4,-0.5,-0.5,
1.2,0.6,1.4,1.4,0.9,0.6,1.4,1.5,0.8,0.4,
0.1,3.5,3,3,1,1,1,3,1.5,3.5,
3,2,-0.5,-2,-1.9,3,3.5,4,3.5,3.8,
3,3,4.5,5,4.5,5.5,5,5,5,6,
6,5,5,6,5,-0.8,-0.8,-0.8,-0.8,-2,
0.9,1,0.8,0.6,1.6,1.4,
0.6,1.2,1.4,0.6,1.5,2.4,1.4,2.8,
0.2,1,1.6,0.8,1.1,1.4,1.5,1.3,2.8,3,
0,0.4,0.8,1,0.6,1.2,1.6,1,2.4,2.6,3,
0,0.2,0.6,0.8,0.4,1,1.4,2,1.2,2.6,2.8,3,3,
-0.3,0.2,0.4,0.2,1,0.6,1.5,2,2.2,2.4,3,3.1,3.2,3.3,
-0.6,-0.5,0,0.2,0.6,1,1.2,1.6,2.4,2.6,1.8,3,3.2,3.4,4.4,
-0.7,-0.7,-0.7,0.1,0.4,1.2,0.4,1.6,2,1.8,2.6,3.2,2.6,3.3,4,4.6,
-0.8,-0.7,0.3,0.4,1,1.4,0.6,2,2.8,1.8,3,2.4,3.2,3.6,4,4.4,5.2,
-0.9,-0.8,-0.6,2.6,1.6,0.8,2,2.4,1.6,3,2.6,3.4,3,4,3.6,4.8,5.5,
-0.9,-0.8,1,2,0.8,1.4,2.4,2.8,2,3.2,2.4,3.4,3,3.8,4.6,5,
1.6,1,0.6,2,2.8,2.4,3.4,2.8,3.4,3.2,4,4.2,5,4.8,
1.2,2,1,1.8,2.8,2.2,3.4,2.6,3.6,3,4.2,5,4.6,
2.6,2,1.6,2.4,3,2.6,3.8,3,3.4,3.8,4,5,3.2,
2.4,3,2.6,2,3.2,2.8,3.6,3,3.2,4.4,3.8,2.4,4.4,
3,2.8,3.4,2.6,3,4,3.6,3.2,4.8,4,6.5,4.6,
5,3.4,3.6,3,4,3.8,3.6,4.4,3.8,5,
3.4,4,4.2,3.8,5.5,4.2,4.6,
4,4.4,3.6,4,5,-2,
0.8,1.3,0.6,1.4,1.5,1.6,
0.4,1,1.4,0.8,1.2,1.6,1.5,2.6,3,
0.2,0.8,1.2,0.8,1,1.4,1.8,2.4,2.8,3.2,
0,0.4,0.8,0.6,1,1.2,1.8,1.4,2.4,2.8,3,3.2,
-0.3,0.1,0.3,0.5,0.6,1,1.2,1.8,2,2.6,2.8,3.1,3.3,3.5,
-0.5,0,0.2,0.5,0.8,1.4,1.6,2.2,2.6,2.4,3,3.2,3.3,3.8,4.6,
-0.7,-0.5,0.1,0.3,0.8,1.2,1.4,2,2.2,2.6,3,3,3.3,3.8,4.2,5,
-0.8,-0.7,0.1,0.3,0.9,1.2,1.2,2.2,2.4,2.6,2.8,3.2,3.2,3.4,4,4.6,5,
-0.8,-0.6,0.6,1.4,1.6,1.2,2,2.6,2.2,3,3,3.2,3.6,4,4.6,5.2,
-0.8,-0.4,1.8,1.6,1.2,2,2.6,2.2,3,2.8,3.2,3.4,3.8,4,4.8,5.4,
1.6,1.2,1.2,2.2,2.6,2.8,3,3,3.4,3.4,3.8,4.4,4.8,5,
1.4,1.6,1.4,2,2.8,2.6,3.2,3,3.4,3.6,4.2,4.6,5,
2,2.2,2,2.4,3,2.8,3.4,3.2,3.6,3.6,4.2,4.8,4.2,
2.6,2.8,2.4,2.6,3,3,3.6,3.2,3.4,4,3.8,4.4,4.8,
3,3.2,3,3,3.2,3.4,3.8,3.2,4.2,3.8,4.4,5,
4,3.2,3.4,3.6,4,3.8,3.4,4.6,4,5.4,
4,3.4,4,4.2,3.8,4.6,4,4.6,
4.2,4.4,3.8,4.4,4.8,
0.8,1.2,1.4,2.2,2.6,
0.6,0.9,1.3,2,2.6,3,
0.4,1,1.5,2.3,2.7,3.2,3.6,
0.5,1,1.6,2.3,2.8,3.2,3.8,
0.8,1.5,2.2,2.8,3.1,3.6,4.4,
0.9,1.4,2.3,2.7,3.2,3.6,4.4,
1.2,1.6,2.5,3,3.3,3.8,4.6,
1.5,2.4,2.8,3.3,3.6,4.6,
1.6,2.5,3,3.4,3.9,4.8,
1.8,2.8,3.1,3.5,3.8,4.6,
2.6,3,3.4,3.6,4.2,5,
3,3.5,3.8,4,
3.8,4,4.2
];

const magmaStops = [[252,253,191],[254,207,146],[254,159,109],[247,112,92],[222,73,104],[183,55,121],[140,41,129],[100,26,128],[59,15,112],[20,14,54],[0,0,4]];
const SVG_NS = 'http://www.w3.org/2000/svg';

function typeColor(type) {
  const t = Math.max(0, Math.min(1, (type + 2) / 20)) * 10;
  const i = Math.min(9, Math.floor(t));
  const f = t - i;
  const a = magmaStops[i];
  const b = magmaStops[i + 1];
  return 'rgb(' + [0, 1, 2].map(function (k) { return Math.round(a[k] + (b[k] - a[k]) * f); }).join(',') + ')';
}
function linearScale(d0, d1, r0, r1) {
  return function (v) { return r0 + (v - d0) / (d1 - d0) * (r1 - r0); };
}
function addTick(parent, x1, y1, x2, y2, width, name) {
  const el = document.createElementNS(SVG_NS, 'line');
  el.setAttribute('x1', x1);
  el.setAttribute('y1', y1);
  el.setAttribute('x2', x2);
  el.setAttribute('y2', y2);
  el.setAttribute('stroke', '#000');
  el.setAttribute('stroke-width', width);
  
  
  parent.appendChild(el);
}
function addLabel(parent, x, y, str, size, anchor, name) {
  const el = document.createElementNS(SVG_NS, 'text');
  el.setAttribute('x', x);
  el.setAttribute('y', y);
  el.setAttribute('font-size', size);
  el.setAttribute('text-anchor', anchor);
  
  
  el.textContent = str;
  parent.appendChild(el);
}

function drawPanel(cfg) {
  const g = document.getElementById(cfg.id);
  const sx = linearScale(cfg.xMin, cfg.xMax, cfg.left, cfg.right);
  const sy = linearScale(cfg.yMin, cfg.yMax, cfg.bottom, cfg.top);

  cfg.fieldX.forEach(function (xv, i) {
    const c = document.createElementNS(SVG_NS, 'circle');
    c.setAttribute('cx', sx(xv).toFixed(2));
    c.setAttribute('cy', sy(cfg.fieldY[i]).toFixed(2));
    c.setAttribute('r', '4.2');
    c.setAttribute('fill', 'none');
    c.setAttribute('stroke', '#e1e1e1');
    c.setAttribute('stroke-width', '1.4');
    
    
    g.appendChild(c);
  });
  cfg.memberX.forEach(function (xv, i) {
    const c = document.createElementNS(SVG_NS, 'circle');
    c.setAttribute('cx', sx(xv).toFixed(2));
    c.setAttribute('cy', sy(cfg.memberY[i]).toFixed(2));
    c.setAttribute('r', '5');
    c.setAttribute('fill', typeColor(cfg.memberType[i]));
    
    
    g.appendChild(c);
  });

  for (let i = 0; i <= cfg.xMinorCount; i++) {
    const v = cfg.xMinorStart + i * cfg.xMinorStep;
    const px = sx(v);
    if (px <= cfg.left + 2 || px >= cfg.right - 2) continue;
    addTick(g, px, cfg.bottom, px, cfg.bottom - 7.5, 1.5, 'x-minor-tick');
    addTick(g, px, cfg.top, px, cfg.top + 7.5, 1.5, 'x-minor-tick');
  }
  for (let i = 0; i <= cfg.yMinorCount; i++) {
    const v = cfg.yMinorStart + i * cfg.yMinorStep;
    const py = sy(v);
    if (py <= cfg.top + 2 || py >= cfg.bottom - 2) continue;
    addTick(g, cfg.left, py, cfg.left + 7.5, py, 1.5, 'y-minor-tick');
    addTick(g, cfg.right, py, cfg.right - 7.5, py, 1.5, 'y-minor-tick');
  }
  cfg.xTicks.forEach(function (v, i) {
    const px = sx(v);
    if (px > cfg.left + 2 && px < cfg.right - 2) {
      addTick(g, px, cfg.bottom, px, cfg.bottom - 15, 1.6, 'x-major-tick');
      addTick(g, px, cfg.top, px, cfg.top + 15, 1.6, 'x-major-tick');
    }
    addLabel(g, px, cfg.bottom + 30.5, cfg.xLabels[i], 31.4, 'middle', 'x-tick-label');
  });
  cfg.yTicks.forEach(function (v, i) {
    const py = sy(v);
    if (py > cfg.top + 2 && py < cfg.bottom - 2) {
      addTick(g, cfg.left, py, cfg.left + 15, py, 1.6, 'y-major-tick');
      addTick(g, cfg.right, py, cfg.right - 15, py, 1.6, 'y-major-tick');
    }
    addLabel(g, 90.5, py + 12, cfg.yLabels[i], 31.4, 'end', 'y-tick-label');
  });

  const frame = document.createElementNS(SVG_NS, 'rect');
  frame.setAttribute('x', cfg.left);
  frame.setAttribute('y', cfg.top);
  frame.setAttribute('width', cfg.right - cfg.left);
  frame.setAttribute('height', cfg.bottom - cfg.top);
  frame.setAttribute('fill', 'none');
  frame.setAttribute('stroke', '#000');
  frame.setAttribute('stroke-width', '3');
  
  
  g.appendChild(frame);

  const barScale = linearScale(-2, 18, cfg.barBottom, cfg.barTop);
  const bar = document.createElementNS(SVG_NS, 'rect');
  bar.setAttribute('x', 1080);
  bar.setAttribute('y', cfg.barTop);
  bar.setAttribute('width', 19.5);
  bar.setAttribute('height', cfg.barBottom - cfg.barTop);
  bar.setAttribute('fill', 'url(#magma-bar)');
  
  
  g.appendChild(bar);
  spectralTicks.forEach(function (v, i) {
    const py = barScale(v);
    addTick(g, 1099.5, py, 1105.2, py, 1.5, 'colorbar-tick');
    addLabel(g, 1110.5, py + (i === 0 ? 11.5 : 10.3), spectralLabels[i], 25.8, 'start', 'colorbar-tick-label');
  });
}

drawPanel({
  id: 'top-panel', left: 96.8, right: 1070.7, top: 14.7, bottom: 829,
  xMin: 1.3, xMax: 5.598, yMin: 1.0, yMax: 5.8,
  xMinorStart: 1.3, xMinorStep: 0.1, xMinorCount: 43,
  yMinorStart: 1.0, yMinorStep: 0.2, yMinorCount: 24,
  xTicks: topXTickValues, xLabels: topXTickLabels, yTicks: topYTickValues, yLabels: topYTickLabels,
  fieldX: topFieldGJ, fieldY: topFieldBpRp,
  memberX: topMemberGJ, memberY: topMemberBpRp, memberType: topMemberType,
  barTop: 14.7, barBottom: 828.5
});
drawPanel({
  id: 'bottom-panel', left: 96.8, right: 1070.7, top: 942, bottom: 1756,
  xMin: 0, xMax: 0.9, yMin: 0.3, yMax: 1.3,
  xMinorStart: 0, xMinorStep: 0.02, xMinorCount: 45,
  yMinorStart: 0.3, yMinorStep: 0.05, yMinorCount: 20,
  xTicks: bottomXTickValues, xLabels: bottomXTickLabels, yTicks: bottomYTickValues, yLabels: bottomYTickLabels,
  fieldX: bottomFieldHK, fieldY: bottomFieldJH,
  memberX: bottomMemberHK, memberY: bottomMemberJH, memberType: bottomMemberType,
  barTop: 941.5, barBottom: 1756
});
</script>
</body>
</html>
